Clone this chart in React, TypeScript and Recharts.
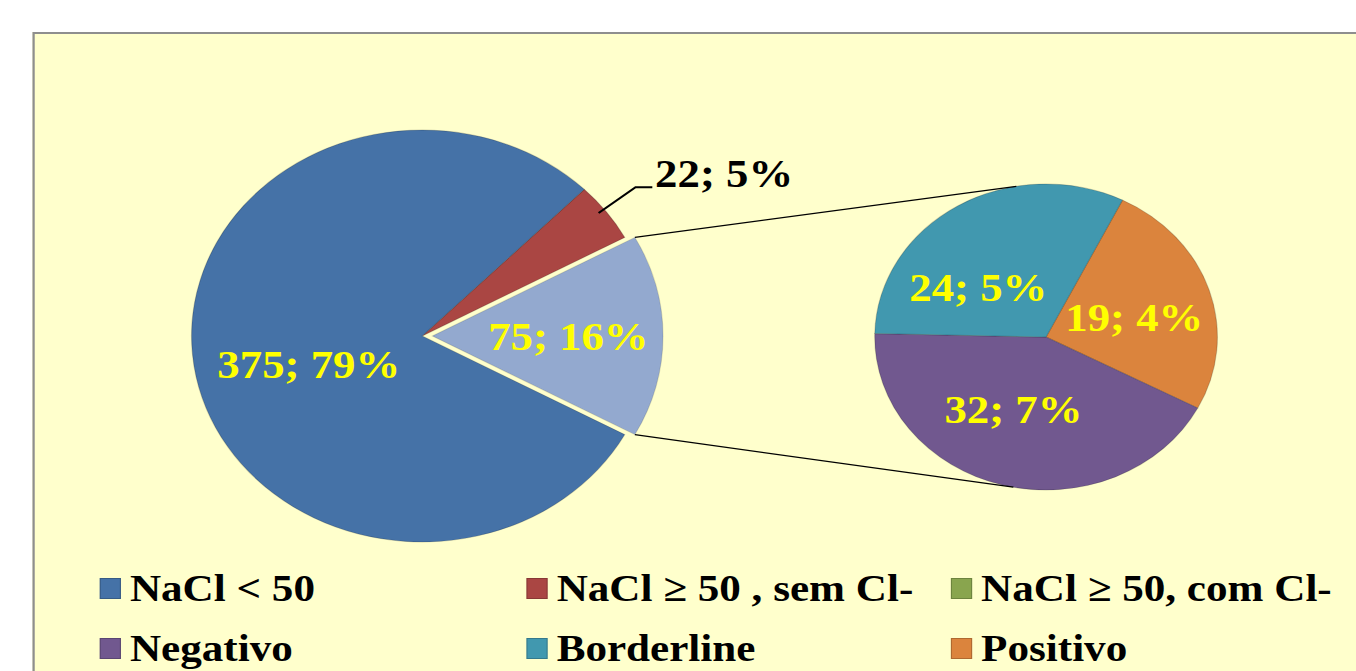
import React from 'react';
import { PieChart, Pie, Cell } from 'recharts';

// whole picture is drawn a bit wider than tall, like the original slide
const SX = 1.12;
const W = Math.round(1356 / SX);
const H = 671;
const RAD = Math.PI / 180;
const FONT = "'Liberation Serif', 'Times New Roman', serif";

const categories = ['NaCl < 50', 'NaCl \u2265 50 , sem Cl-', 'NaCl \u2265 50, com Cl-', 'Negativo', 'Borderline', 'Positivo'];
const values = [375, 22, 0, 32, 24, 19];
const colors = ['#4572A7', '#AA4643', '#89A54E', '#71588F', '#4198AF', '#DB843D'];
const otherColor = '#93A9CF';

const total = values.reduce((a, b) => a + b, 0);
const pct = (v: number) => Math.round((v / total) * 100);

// second pie: Positivo, Negativo, Borderline (clockwise from the top right)
const subIdx = [5, 3, 4];
const otherValue = subIdx.reduce((s, i) => s + values[i], 0);

const mainData = [
  { name: 'Outros', value: otherValue, color: 'transparent' },
  { name: categories[1], value: values[1], color: colors[1] },
  { name: categories[0], value: values[0], color: colors[0] },
];
const explodedData = [
  { name: 'Outros', value: otherValue, color: otherColor },
  { name: 'rest', value: total - otherValue, color: 'transparent' },
];
const subData = subIdx.map((i) => ({ name: categories[i], value: values[i], color: colors[i] }));

const half = (otherValue / total) * 180;

const MAIN_CX = 377;
const MAIN_CY = 336;
const MAIN_R = 206;
const EXPLODE = 9;
const SUB_CX = 934;
const SUB_CY = 337;
const SUB_R = 153;
const SUB_START = 63.5;
// small hand nudges for the second pie labels (Positivo, Negativo, Borderline)
const SUB_NUDGE = [[6, 4], [-10, -2], [-21, 16]];

const labelStyle = { fontFamily: FONT, fontWeight: 700, fontSize: 40 };
const NO_MARGIN = { top: 0, right: 0, bottom: 0, left: 0 };

const polar = (cx: number, cy: number, r: number, a: number) => [
  cx + r * Math.cos(-a * RAD),
  cy + r * Math.sin(-a * RAD),
];

const mainLabel = (p: any) => {
  const { cx, cy, midAngle, outerRadius, index, value } = p;
  if (index === 0) return null;
  const txt = `${value}; ${pct(value)}%`;
  if (index === 2) {
    const [x, y] = polar(cx, cy, outerRadius * 0.51, midAngle + 7);
    return (
      <text x={x} y={y} textAnchor="middle" dominantBaseline="central" fill="#FFFF00" {...labelStyle}>
        {txt}
      </text>
    );
  }
  const [x0, y0] = polar(cx, cy, outerRadius * 0.97, midAngle + 1);
  const [x1, y1] = polar(cx, cy, outerRadius * 1.173, midAngle + 1);
  const x2 = x1 + 15;
  return (
    <g>
      <polyline points={`${x0},${y0} ${x1},${y1} ${x2},${y1}`} fill="none" stroke="#000" strokeWidth={2} />
      <text x={x2 + 2.5} y={y1} textAnchor="start" fill="#000" {...labelStyle}>
        {txt}
      </text>
    </g>
  );
};

const explodedLabel = (p: any) => {
  const { cx, cy, midAngle, outerRadius, index, value } = p;
  if (index !== 0) return null;
  const [x, y] = polar(cx, cy, outerRadius * 0.59, midAngle);
  const [ax, ay] = polar(cx, cy, outerRadius, half);
  const [bx, by] = polar(cx, cy, outerRadius, -half);
  const [tx, ty] = polar(SUB_CX, SUB_CY, SUB_R, 100);
  const [ux, uy] = polar(SUB_CX, SUB_CY, SUB_R, -101);
  return (
    <g>
      <line x1={ax} y1={ay} x2={tx} y2={ty} stroke="#000" strokeWidth={1.2} />
      <line x1={bx} y1={by} x2={ux} y2={uy} stroke="#000" strokeWidth={1.2} />
      <text x={x} y={y} textAnchor="middle" dominantBaseline="central" fill="#FFFF00" {...labelStyle}>
        {`${value}; ${pct(value)}%`}
      </text>
    </g>
  );
};

const subLabel = (p: any) => {
  const { cx, cy, midAngle, outerRadius, value, index } = p;
  const [x, y] = polar(cx, cy, outerRadius * 0.5, midAngle);
  const [dx, dy] = SUB_NUDGE[index] || [0, 0];
  return (
    <text x={x + dx} y={y + dy} textAnchor="middle" dominantBaseline="central" fill="#FFFF00" {...labelStyle}>
      {`${value}; ${pct(value)}%`}
    </text>
  );
};

const legendCols = [89, 470, 849];
const legendRows = [588, 648];

export default function App() {
  return (
    <div style={{ position: 'absolute', left: 0, top: 0, width: 1356, height: H, overflow: 'hidden', background: '#fff' }}>
      <div style={{ position: 'absolute', left: 0, top: 0, width: W, height: H, transform: `scaleX(${SX})`, transformOrigin: '0 0' }}>
        <div
          style={{
            position: 'absolute',
            left: 29,
            top: 32,
            width: W,
            height: H,
            background: '#FFFFCC',
            border: '2px solid #8E8E8E',
          }}
        />
        <div style={{ position: 'absolute', left: 0, top: 0 }}>
          <PieChart width={W} height={H} margin={NO_MARGIN}>
            <Pie
              data={mainData}
              dataKey="value"
              cx={MAIN_CX}
              cy={MAIN_CY}
              outerRadius={MAIN_R}
              startAngle={-half}
              endAngle={360 - half}
              label={mainLabel}
              labelLine={false}
              isAnimationActive={false}
            >
              {mainData.map((d, i) => (
                <Cell key={i} fill={d.color} stroke={i === 0 ? 'none' : 'rgba(0,0,0,0.18)'} strokeWidth={1} />
              ))}
            </Pie>
            <Pie
              data={explodedData}
              dataKey="value"
              cx={MAIN_CX + EXPLODE}
              cy={MAIN_CY}
              outerRadius={MAIN_R}
              startAngle={-half}
              endAngle={360 - half}
              label={explodedLabel}
              labelLine={false}
              isAnimationActive={false}
            >
              {explodedData.map((d, i) => (
                <Cell key={i} fill={d.color} stroke={i === 0 ? 'rgba(0,0,0,0.12)' : 'none'} strokeWidth={1} />
              ))}
            </Pie>
            <Pie
              data={subData}
              dataKey="value"
              cx={SUB_CX}
              cy={SUB_CY}
              outerRadius={SUB_R}
              startAngle={SUB_START}
              endAngle={SUB_START - 360}
              label={subLabel}
              labelLine={false}
              isAnimationActive={false}
            >
              {subData.map((d, i) => (
                <Cell key={i} fill={d.color} stroke="rgba(0,0,0,0.18)" strokeWidth={1} />
              ))}
            </Pie>
          </PieChart>
        </div>
        {categories.map((c, i) => (
          <div
            key={c}
            style={{
              position: 'absolute',
              left: legendCols[i % 3],
              top: legendRows[Math.floor(i / 3)] - 25,
              height: 50,
              display: 'flex',
              alignItems: 'center',
              whiteSpace: 'nowrap',
              fontFamily: FONT,
              fontWeight: 700,
              fontSize: 38.5,
              color: '#000',
            }}
          >
            <span
              style={{
                display: 'inline-block',
                width: 19,
                height: 21,
                background: colors[i],
                border: '1px solid rgba(0,0,0,0.2)',
                boxSizing: 'border-box',
                marginRight: 8,
              }}
            />
            <span>{c}</span>
          </div>
        ))}
      </div>
    </div>
  );
}
